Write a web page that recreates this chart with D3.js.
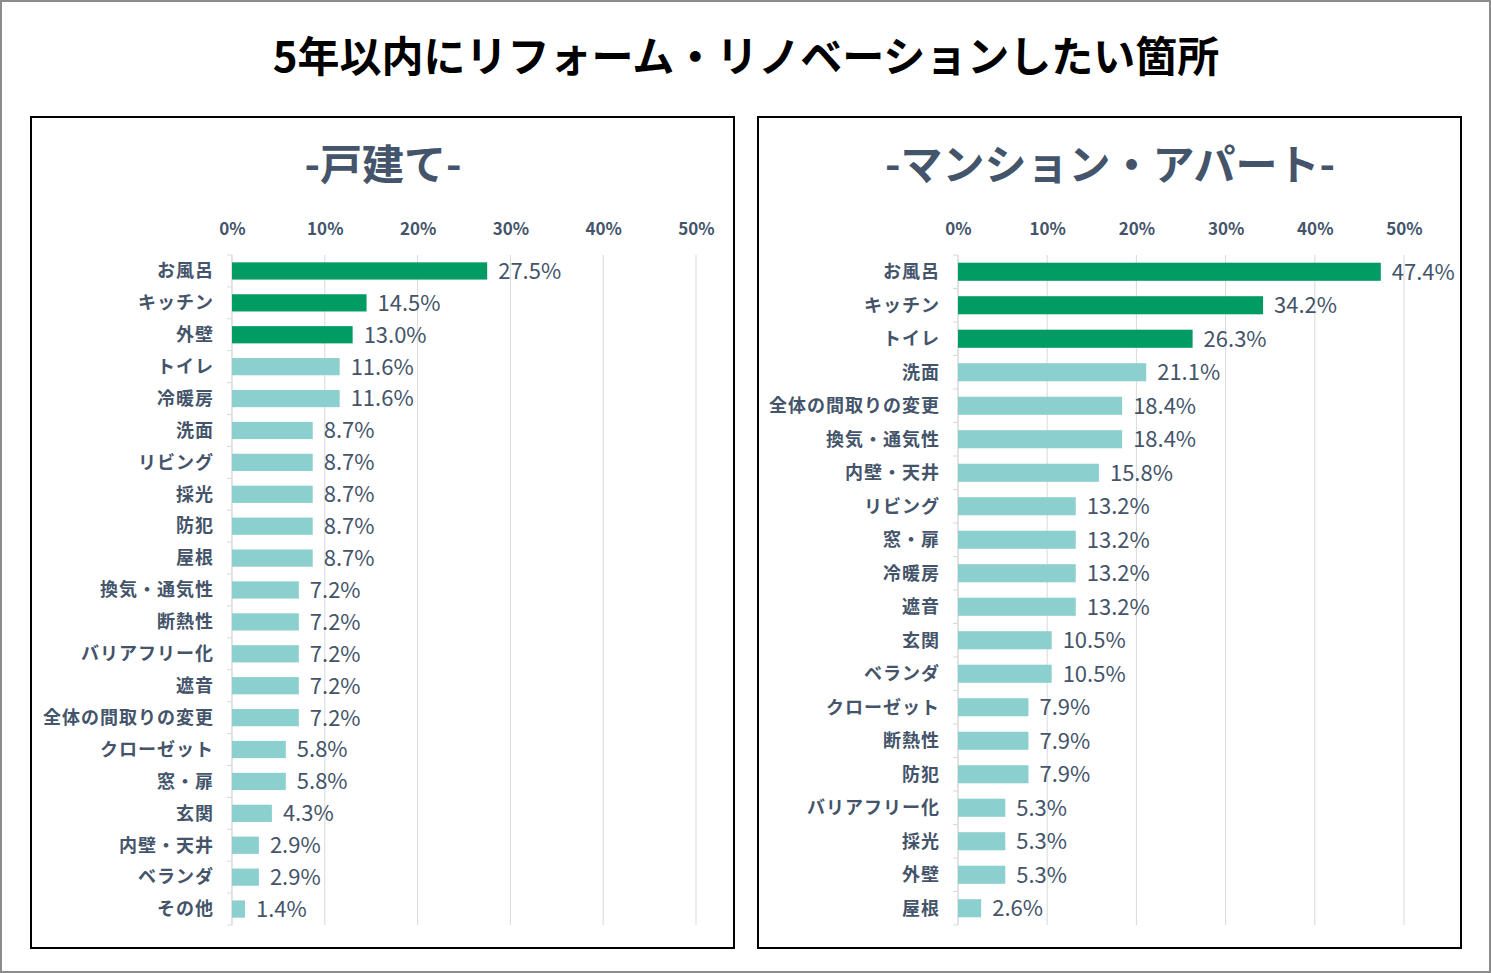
<!DOCTYPE html>
<html><head><meta charset="utf-8">
<script src="https://cdn.jsdelivr.net/npm/d3@7"></script>
<style>
html,body{margin:0;padding:0;background:#fff;}
svg{display:block;font-family:"Noto Sans CJK JP","Noto Sans",sans-serif;}
</style></head>
<body><svg id="c" width="1491" height="973"></svg>
<script>
const mainTitle = "5年以内にリフォーム・リノベーションしたい箇所";
const houseTitle = "-戸建て-";
const houseCats = ["お風呂","キッチン","外壁","トイレ","冷暖房","洗面","リビング","採光","防犯","屋根","換気・通気性","断熱性","バリアフリー化","遮音","全体の間取りの変更","クローゼット","窓・扉","玄関","内壁・天井","ベランダ","その他"];
const houseVals = [27.5,14.5,13.0,11.6,11.6,8.7,8.7,8.7,8.7,8.7,7.2,7.2,7.2,7.2,7.2,5.8,5.8,4.3,2.9,2.9,1.4];
const aptTitle = "-マンション・アパート-";
const aptCats = ["お風呂","キッチン","トイレ","洗面","全体の間取りの変更","換気・通気性","内壁・天井","リビング","窓・扉","冷暖房","遮音","玄関","ベランダ","クローゼット","断熱性","防犯","バリアフリー化","採光","外壁","屋根"];
const aptVals = [47.4,34.2,26.3,21.1,18.4,18.4,15.8,13.2,13.2,13.2,13.2,10.5,10.5,7.9,7.9,7.9,5.3,5.3,5.3,2.6];
const ticks = [0,10,20,30,40,50];
const highlightCount = 3;

const svg = d3.select("#c");
const textCol = "#44546A", gridCol = "#D9D9D9";
const darkGreen = "#009C63", lightTeal = "#8BD0CE";

svg.append("rect").attr("x",1).attr("y",1).attr("width",1489).attr("height",971)
  .attr("fill","#fff").attr("stroke","#8C8C8C").attr("stroke-width",2);

svg.append("text").attr("x",746).attr("y",72).attr("text-anchor","middle")
  .attr("font-size",42).attr("font-weight",700).attr("fill","#000").text(mainTitle);

function panel(px, title, cats, vals, x0, x50) {
  svg.append("rect").attr("x",px).attr("y",117).attr("width",703).attr("height",831)
    .attr("fill","#fff").attr("stroke","#000").attr("stroke-width",2);
  svg.append("text").attr("x",px+352).attr("y",180).attr("text-anchor","middle")
    .attr("font-size",42).attr("font-weight",700).attr("fill",textCol).text(title);

  const x = d3.scaleLinear().domain([0,50]).range([x0,x50]);
  const y = d3.scaleBand().domain(cats).range([255,925]).paddingInner(0.46).paddingOuter(0.23);
  const g = svg.append("g");

  // gridlines
  g.selectAll("line.grid").data(ticks).join("line")
    .attr("x1",d=>x(d)).attr("x2",d=>x(d)).attr("y1",255).attr("y2",925)
    .attr("stroke",gridCol).attr("stroke-width",1);

  // top axis labels
  const ax = d3.axisTop(x).tickValues(ticks).tickFormat(d=>d+"%").tickSize(0).tickPadding(0);
  const axg = g.append("g").attr("transform","translate(0,235)").call(ax);
  axg.select(".domain").remove();
  axg.selectAll("text").attr("font-size",17).attr("font-weight",700).attr("fill",textCol)
    .attr("font-family","'Noto Sans CJK JP',sans-serif");

  // category axis line & ticks
  const bounds = d3.range(cats.length+1).map(i=>255+i*(670/cats.length));
  g.append("line").attr("x1",x0).attr("x2",x0).attr("y1",255).attr("y2",925)
    .attr("stroke",gridCol).attr("stroke-width",1);
  g.selectAll("line.tk").data(bounds).join("line")
    .attr("x1",x0-5).attr("x2",x0).attr("y1",d=>d).attr("y2",d=>d)
    .attr("stroke",gridCol).attr("stroke-width",1);

  // bars
  g.selectAll("rect.bar").data(cats).join("rect")
    .attr("x",x0).attr("y",d=>y(d)).attr("height",y.bandwidth())
    .attr("width",(d,i)=>x(vals[i])-x0)
    .attr("fill",(d,i)=>i<highlightCount?darkGreen:lightTeal);

  // category labels
  g.selectAll("text.cat").data(cats).join("text")
    .attr("x",x0-18).attr("y",d=>y(d)+y.bandwidth()/2).attr("dy","0.35em")
    .attr("text-anchor","end").attr("font-size",18).attr("font-weight",700)
    .attr("letter-spacing","1px")
    .attr("fill",textCol).text(d=>d);

  // value labels
  g.selectAll("text.val").data(cats).join("text")
    .attr("x",(d,i)=>x(vals[i])+11).attr("y",d=>y(d)+y.bandwidth()/2).attr("dy","0.36em")
    .attr("font-size",22).attr("fill",textCol)
    .text((d,i)=>vals[i].toFixed(1)+"%");
}

panel(31, houseTitle, houseCats, houseVals, 232, 696);
panel(758, aptTitle, aptCats, aptVals, 958, 1404);
</script></body></html>
